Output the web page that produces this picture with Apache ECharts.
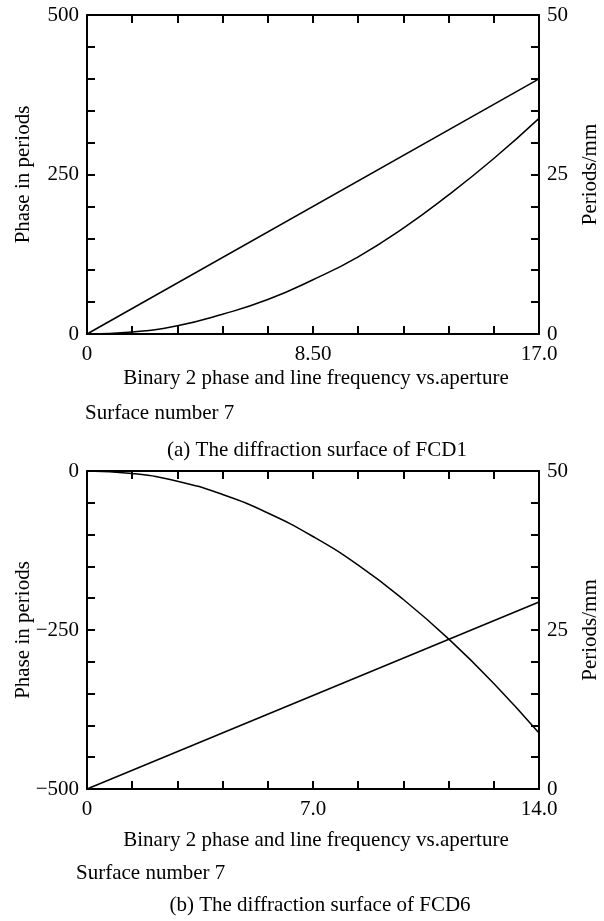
<!DOCTYPE html>
<html>
<head>
<meta charset="utf-8">
<script src="https://cdn.jsdelivr.net/npm/echarts@6/dist/echarts.min.js"></script>
<style>
	html, body { margin: 0; padding: 0; background: #fff; }
	#chart { width: 604px; height: 921px; }
</style>
</head>
<body>
<div id="chart"></div>
<script>
	'use strict';

	/* (a) FCD1 */
	var apertureA = [0, 1.7, 3.4, 5.1, 6.8, 8.5, 10.2, 11.9, 13.6, 15.3, 17.0];
	var phaseA = [0, 3, 13, 31, 54, 85, 121, 166, 218, 275, 338];
	var freqApertureA = [0, 17.0];
	var freqA = [0, 40];

	/* (b) FCD6 */
	var apertureB = [0, 1.4, 2.8, 4.2, 5.6, 7.0, 8.4, 9.8, 11.2, 12.6, 14.0];
	var phaseB = [0, -4, -16, -37, -66, -103, -148, -202, -264, -334, -412];
	var freqApertureB = [0, 14.0];
	var freqB = [0, 29.4];

	/* tick labels */
	var xLabelsA = { '0': '0', '85': '8.50', '170': '17.0' };
	var xLabelsB = { '0': '0', '70': '7.0', '140': '14.0' };
	var phaseLabelsA = [0, 250, 500];
	var phaseLabelsB = [-500, -250, 0];
	var freqLabels = [0, 25, 50];

	var font = 'Liberation Serif, Times New Roman, serif';
	var fontSize = 21;
	var black = '#000';

	function pairs(xs, ys) {
		return xs.map(function (x, i) { return [x, ys[i]]; });
	}

	function xLabelFmt(table) {
		return function (v) {
			var k = String(Math.round(v * 10));
			return table[k] !== undefined ? table[k] : '';
		};
	}

	function yLabelFmt(list) {
		return function (v) {
			var r = Math.round(v);
			if (list.indexOf(r) < 0) return '';
			return r < 0 ? '\u2212' + Math.abs(r) : String(r);
		};
	}

	function xAxis(grid, pos, max, labels) {
		return {
			type: 'value',
			gridIndex: grid,
			position: pos,
			min: 0,
			max: max,
			interval: max / 10,
			axisLine: { show: true, onZero: false, lineStyle: { color: black, width: 2 } },
			axisTick: { show: true, inside: true, length: 8, lineStyle: { color: black, width: 2 } },
			axisLabel: {
				show: !!labels,
				margin: 10,
				fontFamily: font,
				fontSize: fontSize,
				color: black,
				showMinLabel: true,
				showMaxLabel: true,
				formatter: labels ? xLabelFmt(labels) : null
			},
			splitLine: { show: false }
		};
	}

	function yAxis(grid, pos, min, max, interval, labels, name, gap) {
		return {
			type: 'value',
			gridIndex: grid,
			position: pos,
			min: min,
			max: max,
			interval: interval,
			name: name,
			nameLocation: 'middle',
			nameGap: gap,
			nameRotate: 90,
			nameMoveOverlap: false,
			nameTextStyle: { fontFamily: font, fontSize: fontSize, color: black },
			axisLine: { show: true, onZero: false, lineStyle: { color: black, width: 2 } },
			axisTick: { show: true, inside: true, length: 8, lineStyle: { color: black, width: 2 } },
			axisLabel: {
				margin: 8,
				fontFamily: font,
				fontSize: fontSize,
				color: black,
				showMinLabel: true,
				showMaxLabel: true,
				formatter: yLabelFmt(labels)
			},
			splitLine: { show: false }
		};
	}

	function line(xi, yi, data, smooth) {
		return {
			type: 'line',
			xAxisIndex: xi,
			yAxisIndex: yi,
			data: data,
			smooth: smooth,
			symbol: 'none',
			lineStyle: { color: black, width: 1.5 }
		};
	}

	function caption(x, y, text, align) {
		return {
			type: 'text',
			x: x,
			y: y,
			style: {
				text: text,
				fill: black,
				font: fontSize + 'px ' + font,
				align: align,
				verticalAlign: 'middle'
			}
		};
	}

	var chart = echarts.init(document.getElementById('chart'));
	var option = {
		animation: false,
		grid: [
			{ left: 87, top: 15, width: 452, height: 319, outerBoundsMode: 'none', containLabel: false },
			{ left: 87, top: 471, width: 452, height: 318, outerBoundsMode: 'none', containLabel: false }
		],
		xAxis: [
			xAxis(0, 'bottom', 17, xLabelsA),
			xAxis(0, 'top', 17, null),
			xAxis(1, 'bottom', 14, xLabelsB),
			xAxis(1, 'top', 14, null)
		],
		yAxis: [
			yAxis(0, 'left', 0, 500, 50, phaseLabelsA, 'Phase in periods', 53),
			yAxis(0, 'right', 0, 50, 5, freqLabels, 'Periods/mm', 41),
			yAxis(1, 'left', -500, 0, 50, phaseLabelsB, 'Phase in periods', 53),
			yAxis(1, 'right', 0, 50, 5, freqLabels, 'Periods/mm', 41)
		],
		series: [
			line(0, 0, pairs(apertureA, phaseA), true),
			line(0, 1, pairs(freqApertureA, freqA), false),
			line(2, 2, pairs(apertureB, phaseB), true),
			line(2, 3, pairs(freqApertureB, freqB), false)
		],
		graphic: [
			caption(316, 378, 'Binary 2 phase and line frequency vs.aperture', 'center'),
			caption(85, 413, 'Surface number 7', 'left'),
			caption(317, 450, '(a) The diffraction surface of FCD1', 'center'),
			caption(316, 840, 'Binary 2 phase and line frequency vs.aperture', 'center'),
			caption(76, 873, 'Surface number 7', 'left'),
			caption(320, 905, '(b) The diffraction surface of FCD6', 'center')
		]
	};
	chart.setOption(option);
</script>
</body>
</html>
